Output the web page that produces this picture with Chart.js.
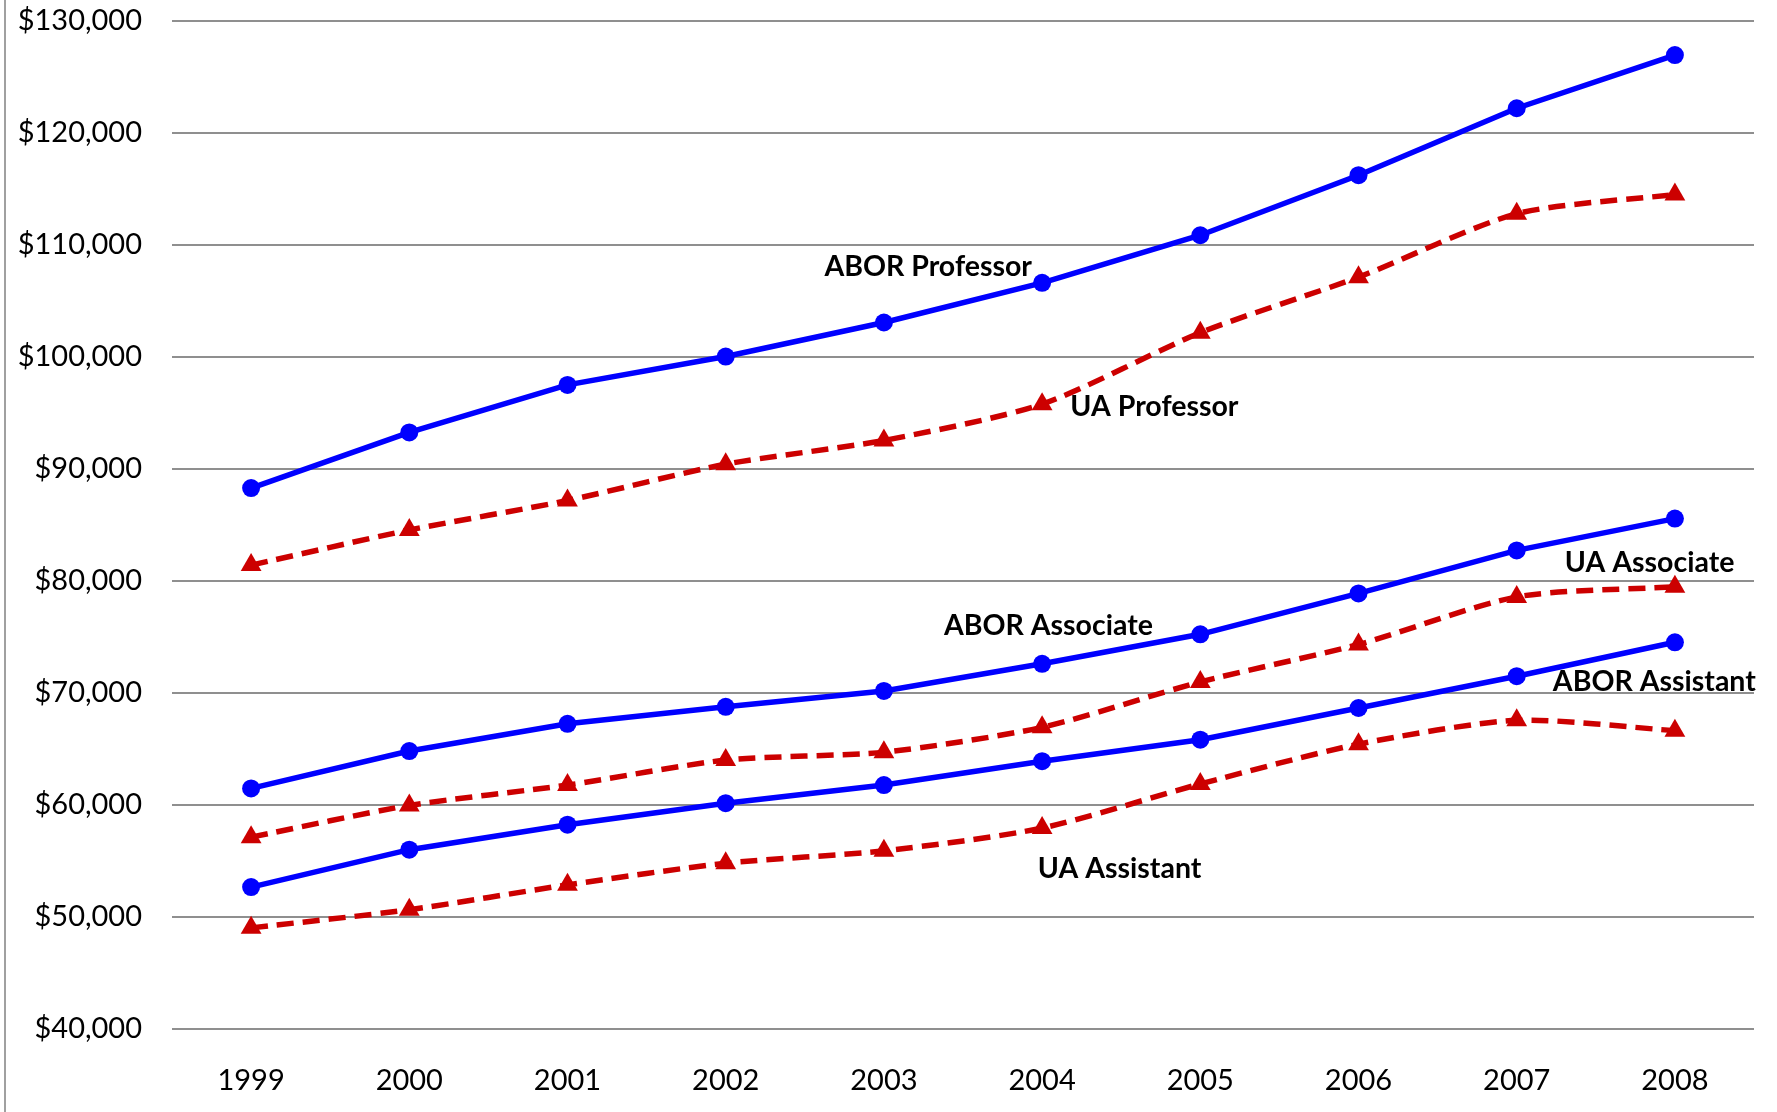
<!DOCTYPE html>
<html>
<head>
<meta charset="utf-8">
<script src="https://cdn.jsdelivr.net/npm/chart.js"></script>
<style>
html,body{margin:0;padding:0;background:#fff;}
#wrap{width:1777px;height:1112px;position:relative;}
</style>
</head>
<body>
<div id="wrap"><canvas id="c" width="1777" height="1112"></canvas></div>
<script>
// ---- Data ----
const years = ['1999','2000','2001','2002','2003','2004','2005','2006','2007','2008'];
const aborProfessor = [88300, 93260, 97510, 100040, 103080, 106620, 110870, 116230, 122210, 126960];
const uaProfessor   = [81420, 84550, 87190, 90430, 92550, 95790, 102170, 107130, 112790, 114510];
const aborAssociate = [61480, 64820, 67250, 68770, 70180, 72610, 75240, 78890, 82730, 85570];
const uaAssociate   = [57130, 59960, 61780, 64010, 64720, 66940, 70990, 74330, 78580, 79490];
const aborAssistant = [52670, 56010, 58240, 60160, 61780, 63910, 65830, 68660, 71500, 74530];
const uaAssistant   = [49030, 50650, 52870, 54800, 55910, 57940, 61880, 65430, 67560, 66640];
const seriesNames = ['ABOR Professor','UA Professor','ABOR Associate','UA Associate','ABOR Assistant','UA Assistant'];
const yMin = 40000, yMax = 130000, yStep = 10000;

// ---- Label anchors (category index, value) ----
const labelAnchors = [
  {text: 'ABOR Professor', x: 4.28, y: 108080},
  {text: 'UA Professor',   x: 5.71, y: 95580},
  {text: 'UA Associate',   x: 8.84, y: 81650},
  {text: 'ABOR Associate', x: 5.04, y: 76030},
  {text: 'ABOR Assistant', x: 8.87, y: 71030},
  {text: 'UA Assistant',   x: 5.49, y: 54330}
];

const FONT = 'Lato, "Open Sans", "Liberation Sans", sans-serif';
const BLUE = '#0000FF', RED = '#CC0000';

function blueSet(label, data){
  return {label, data, borderColor: BLUE, backgroundColor: BLUE, borderWidth: 5.5,
    pointStyle: 'circle', pointRadius: 9, pointHoverRadius: 9, tension: 0, pointBorderWidth: 0};
}
function redSet(label, data){
  return {label, data, borderColor: RED, backgroundColor: RED, borderWidth: 5.5,
    borderDash: [17, 9], pointStyle: 'triangle', pointRadius: 12, pointHoverRadius: 12,
    tension: 0.25, pointBorderWidth: 0};
}

const labelPlugin = {
  id: 'labels',
  afterDatasetsDraw(chart){
    const {ctx, scales:{x, y}} = chart;
    ctx.save();
    ctx.font = 'bold 28.5px ' + FONT;
    ctx.fillStyle = '#000';
    ctx.textAlign = 'center';
    ctx.textBaseline = 'middle';
    const x0 = x.getPixelForValue(0), x1 = x.getPixelForValue(1);
    labelAnchors.forEach(a => {
      const px = x0 + (x1 - x0) * a.x;
      ctx.fillText(a.text, px, y.getPixelForValue(a.y));
    });
    ctx.restore();
  }
};
const borderPlugin = {
  id: 'leftBorder',
  afterDraw(chart){
    const ctx = chart.ctx;
    ctx.save();
    ctx.strokeStyle = '#a0a0a0';
    ctx.lineWidth = 2;
    ctx.beginPath();
    ctx.moveTo(5, 0);
    ctx.lineTo(5, chart.height);
    ctx.stroke();
    ctx.restore();
  }
};

new Chart(document.getElementById('c'), {
  type: 'line',
  data: {
    labels: years,
    datasets: [
      blueSet(seriesNames[0], aborProfessor),
      redSet(seriesNames[1], uaProfessor),
      blueSet(seriesNames[2], aborAssociate),
      redSet(seriesNames[3], uaAssociate),
      blueSet(seriesNames[4], aborAssistant),
      redSet(seriesNames[5], uaAssistant)
    ]
  },
  options: {
    responsive: false,
    animation: false,
    layout: {padding: {top: 21, right: 23, bottom: 0, left: 0}},
    plugins: {legend: {display: false}, tooltip: {enabled: false}},
    scales: {
      x: {
        offset: true,
        grid: {display: false, drawTicks: false},
        border: {display: false},
        ticks: {color: '#000', font: {family: FONT, size: 29}, padding: 34},
        afterFit(s){ s.height = 83; s.paddingLeft = 0; s.paddingRight = 0; }
      },
      y: {
        min: yMin, max: yMax,
        grid: {color: '#8f8f8f', lineWidth: 2, drawTicks: false},
        border: {display: false},
        ticks: {stepSize: yStep, color: '#000', font: {family: FONT, size: 29}, padding: 30,
          callback: v => '$' + v.toLocaleString('en-US')},
        afterFit(s){ s.width = 172; s.paddingTop = 0; s.paddingBottom = 0; }
      }
    }
  },
  plugins: [labelPlugin, borderPlugin]
});
</script>
</body>
</html>
